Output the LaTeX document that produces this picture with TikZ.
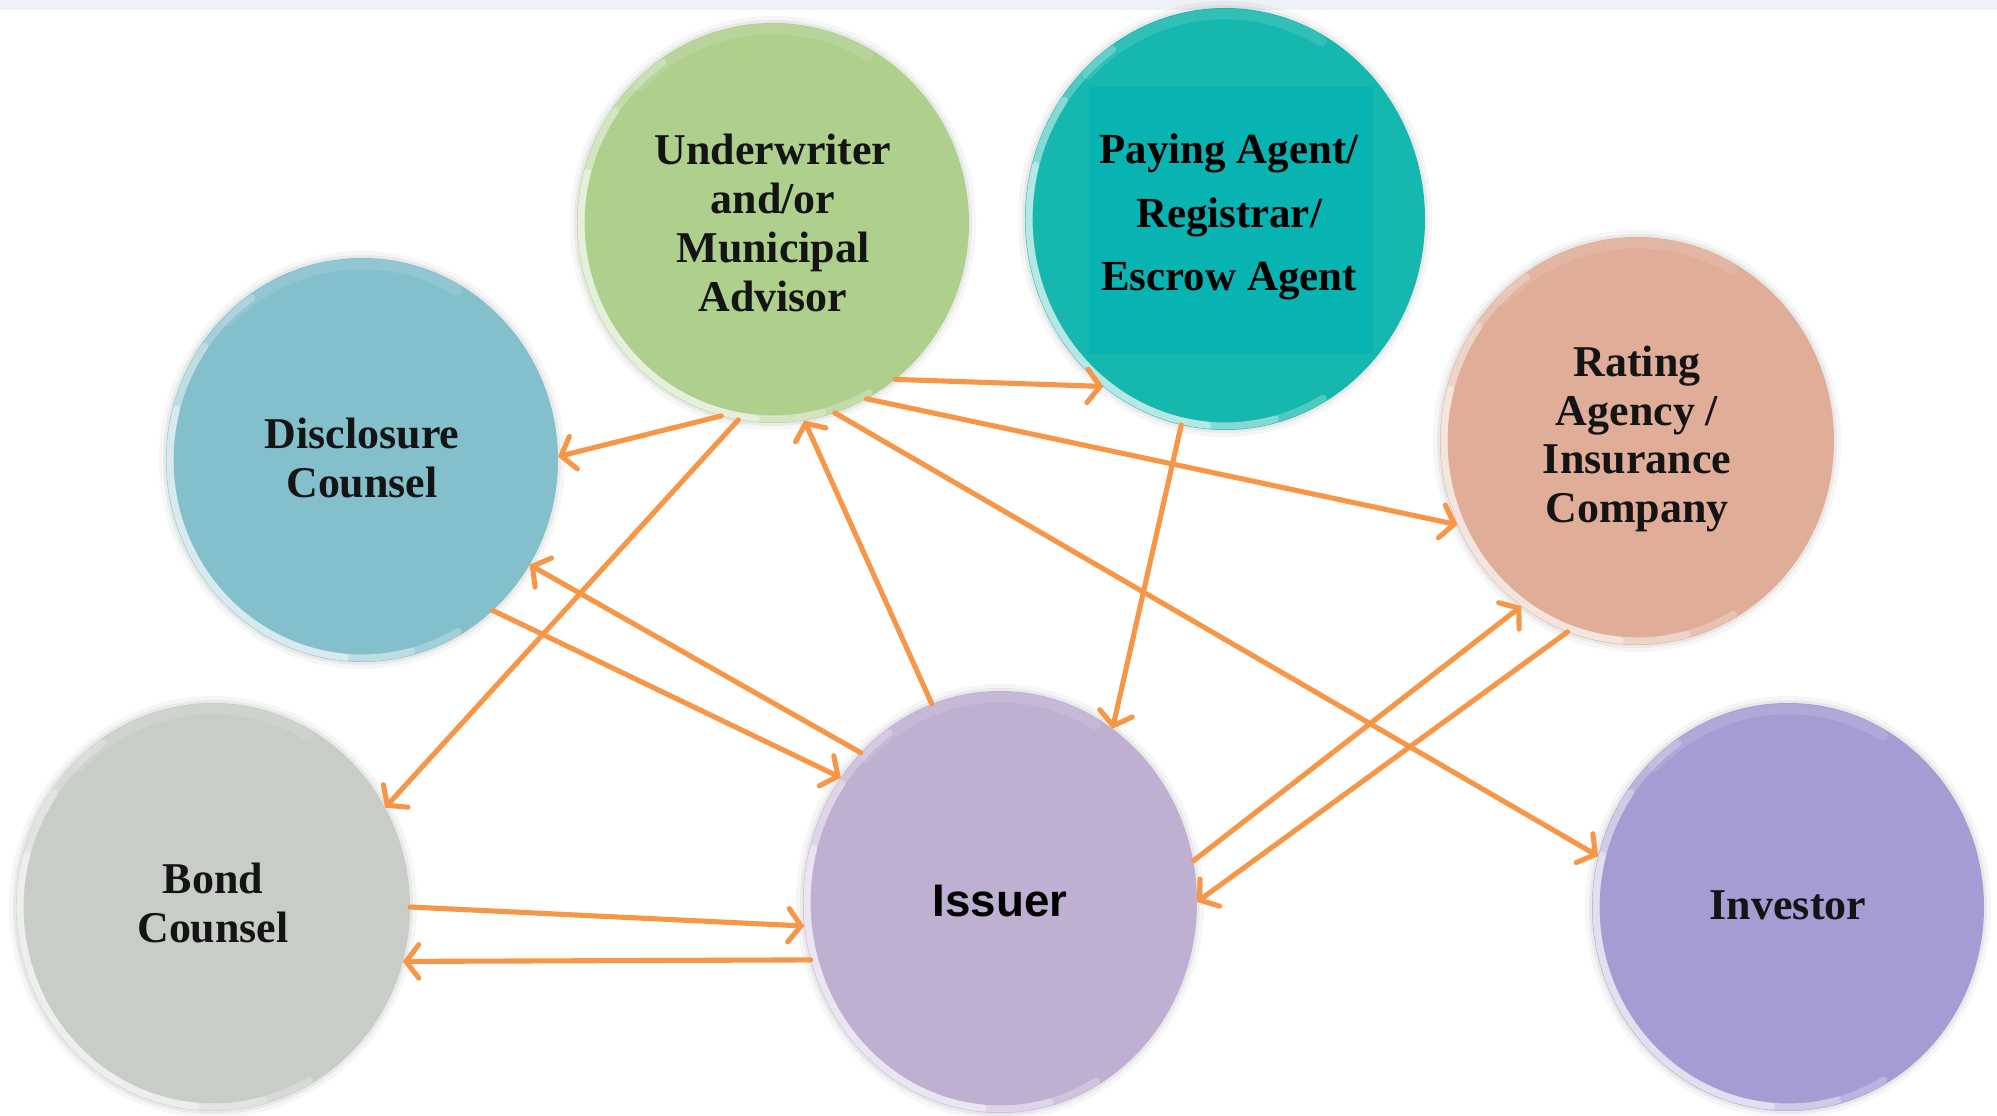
\documentclass[tikz,border=0pt]{standalone}
\usepackage{fontspec}
\setmainfont{Liberation Serif}
\newfontfamily\issuerfont{Liberation Sans}
\usetikzlibrary{arrows.meta,calc,shapes.geometric}

\definecolor{flow}{HTML}{F79646}
\definecolor{uwcol}{HTML}{AFCF8D}
\definecolor{pacol}{HTML}{16B7AE}
\definecolor{paboxcol}{HTML}{08B4B1}
\definecolor{dccol}{HTML}{84BFCC}
\definecolor{racol}{HTML}{E0AD98}
\definecolor{bccol}{HTML}{C9CDC7}
\definecolor{iscol}{HTML}{BFB0D2}
\definecolor{incol}{HTML}{A79BD3}
\definecolor{band}{HTML}{EEF2F6}

\tikzset{
  orbshape/.style={ellipse, inner sep=0pt, outer sep=0pt},
  orbtext/.style={align=center, text=black!92, inner sep=0pt,
    font=\fontsize{12.5}{13.9}\selectfont\bfseries},
  paytext/.style={orbtext, text=black, font=\fontsize{12.2}{18.1}\selectfont\bfseries},
  issuertext/.style={orbtext, text=black, font=\issuerfont\fontsize{13}{15}\selectfont\bfseries},
  flowline/.style={draw=flow, line width=1.45pt, line cap=round,
    -{Straight Barb[length=3.6pt,width=9.5pt,line cap=round]}},
  rim/.style={white, line width=2pt, line cap=round},
}

% glossy disc: name, centre, x radius, y radius, colour (sizes in px units)
\newcommand\orbbody[5]{%
  \fill[black, opacity=.035] (#2) ellipse[x radius=#3+7, y radius=#4+7];
  \fill[black, opacity=.05] (#2) ellipse[x radius=#3+3, y radius=#4+3];
  \node[orbshape, fill=#5, minimum width={2*#3*0.01cm}, minimum height={2*#4*0.01cm}] (#1) at (#2) {};
  % light rim fading out towards its ends along the lower left edge
  \draw[rim, opacity=.25]
    ($(#2)+(125:#3-4 and #4-4)$) arc[start angle=125, end angle=300, x radius=#3-4, y radius=#4-4];
  \draw[rim, opacity=.3]
    ($(#2)+(145:#3-4 and #4-4)$) arc[start angle=145, end angle=285, x radius=#3-4, y radius=#4-4];
  \draw[rim, opacity=.4]
    ($(#2)+(165:#3-4 and #4-4)$) arc[start angle=165, end angle=265, x radius=#3-4, y radius=#4-4];
  % faint sheen along the upper edge
  \draw[white, opacity=.12, line width=3pt, line cap=round]
    ($(#2)+(60:#3-6 and #4-6)$) arc[start angle=60, end angle=135, x radius=#3-6, y radius=#4-6];
}
% label set in the middle of a disc: style, name, centre, text
\newcommand\orblabel[4]{%
  \node[#1] (#2) at (#3) {#4};
}

\begin{document}
\begin{tikzpicture}[x=0.01cm, y=0.01cm]
  \useasboundingbox (0,0) rectangle (1997,1115);
  \fill[white] (0,0) rectangle (1997,1115);
  \fill[band] (0,1105) rectangle (1997,1115);

  % participants
  \orbbody{uw}{773,892}{196}{200}{uwcol}
  \orblabel{orbtext}{uwlbl}{773,892}{Underwriter\\and/or\\Municipal\\Advisor}

  \orbbody{pa}{1225,896}{200}{211}{pacol}
  \fill[paboxcol] (1089,761) rectangle (1373,1028);
  \orblabel{paytext}{palbl}{1229,898}{Paying Agent/\\Registrar/\\Escrow Agent}

  \orbbody{dc}{362,655}{196}{202}{dccol}
  \orblabel{orbtext}{dclbl}{362,657}{Disclosure\\Counsel}

  \orbbody{ra}{1637,674}{197}{204}{racol}
  \orblabel{orbtext}{ralbl}{1637,676}{Rating\\Agency /\\Insurance\\Company}

  \orbbody{bc}{213,208}{197}{204}{bccol}
  \orblabel{orbtext}{bclbl}{213,212}{Bond\\Counsel}

  \orbbody{is}{1000,213}{197}{211}{iscol}
  \orblabel{issuertext}{islbl}{1000,214}{Issuer}

  \orbbody{in}{1788,208}{196}{204}{incol}
  \orblabel{orbtext}{inlbl}{1788,210}{Investor}

  % flows between participants
  \draw[flowline] (uw.-52.5) -- (pa.-126.7);
  \draw[flowline] (uw.-105.5) -- (dc.1.8);
  \draw[flowline] (uw.-100.5) -- (bc.30.7);
  \draw[flowline] (is.109.1) -- (uw.-81);
  \draw[flowline] (uw.-72.8) -- (in.165.2);
  \draw[flowline] (uw.-62.6) -- (ra.205.3);
  \draw[flowline] (pa.-102.6) -- (is.57.2);
  \draw[flowline] (dc.-49.9) -- (is.142.5);
  \draw[flowline] (is.133) -- (dc.-32.7);
  \draw[flowline] (bc.-0.4) -- (is.187);
  \draw[flowline] (is.197.7) -- (bc.-16.8);
  \draw[flowline] (is.12.4) -- (ra.235.1);
  \draw[flowline] (ra.-110.3) -- (is.0.7);
\end{tikzpicture}
\end{document}
